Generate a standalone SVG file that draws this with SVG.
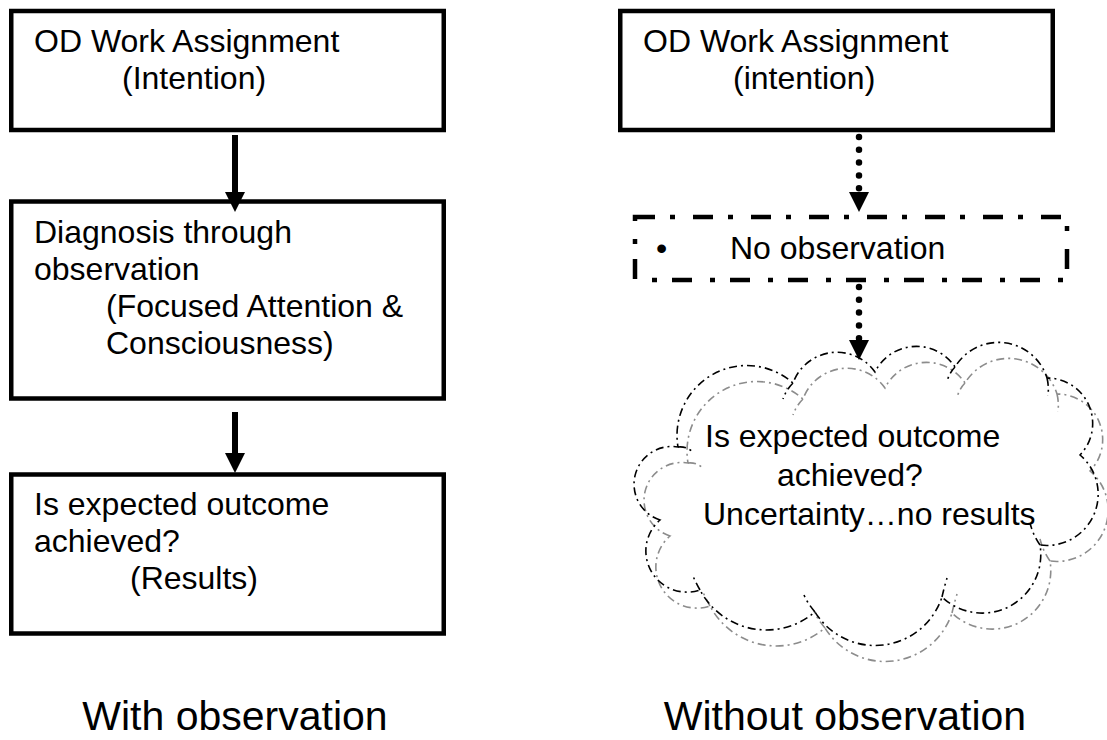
<svg xmlns="http://www.w3.org/2000/svg" width="1107" height="740" viewBox="0 0 1107 740">
<defs>
<style>
.box{fill:none;stroke:#000;stroke-width:4.5}
.dbox{fill:none;stroke:#000;stroke-width:4.5;stroke-dasharray:20 15 5 18}
.t{font-family:"Liberation Sans",Arial,sans-serif;font-size:32px;fill:#000}
.lbl{font-family:"Liberation Sans",Arial,sans-serif;font-size:41px;fill:#000}
.solid{stroke:#000;stroke-width:6;fill:none}
.dots{stroke:#000;stroke-width:6.5;stroke-linecap:round;stroke-dasharray:0 12.8;fill:none}
.cloud{fill:none;stroke-width:1.6;stroke-dasharray:8 4 2 4}
</style>
<marker id="ah" viewBox="0 0 20 20" refX="5" refY="10" markerWidth="20" markerHeight="20" markerUnits="userSpaceOnUse" orient="auto">
<path d="M0,0 L20,10 L0,20 z" fill="#000"/>
</marker>
<marker id="ahd" viewBox="0 0 20 20" refX="-1" refY="10" markerWidth="20" markerHeight="20" markerUnits="userSpaceOnUse" orient="auto">
<path d="M0,0 L20,10 L0,20 z" fill="#000"/>
</marker>
<path id="cloudShape" d="M660,520 A37.7,37.7 0 0 1 678,447 A69.8,69.8 0 0 1 793,383 A46.7,46.7 0 0 1 875,372 A46.3,46.3 0 0 1 955,367 A50.8,50.8 0 0 1 1047,378 A45.5,45.5 0 0 1 1080,455 A51.3,51.3 0 0 1 1040,545 A58.5,58.5 0 0 1 942,597 A70.5,70.5 0 0 1 815,612 A75,75 0 0 1 700,590 A41.1,41.1 0 0 1 660,520 Z M678,447 Q686,446 693,452 M793,383 Q786,390 783,399 M955,367 Q950,372 947,381 M1047,378 Q1049,386 1048,396 M1040,545 Q1033,535 1030,523 M942,597 Q944,588 947,578 M815,612 Q808,604 804,595 M700,590 Q696,583 693,576"/>
</defs>

<g id="connectors">
<line class="solid" x1="235" y1="135" x2="235" y2="197" marker-end="url(#ah)"/>
<line class="solid" x1="235" y1="412" x2="235" y2="458" marker-end="url(#ah)"/>
<line class="dots" x1="859" y1="137" x2="859" y2="191" marker-end="url(#ahd)"/>
<line class="dots" x1="859" y1="287" x2="859" y2="339" marker-end="url(#ahd)"/>
</g>

<g id="left-assignment">
<rect class="box" x="11.25" y="11" width="432.5" height="119"/>
<text class="t" x="34" y="52">OD Work Assignment</text>
<text class="t" x="122" y="89">(Intention)</text>
</g>

<g id="left-diagnosis">
<rect class="box" x="11.25" y="201.5" width="432.5" height="197"/>
<text class="t" x="34" y="243">Diagnosis through</text>
<text class="t" x="34" y="280">observation</text>
<text class="t" x="106" y="317">(Focused Attention &amp;</text>
<text class="t" x="106" y="354">Consciousness)</text>
</g>

<g id="left-results">
<rect class="box" x="11.25" y="474.5" width="432.5" height="159"/>
<text class="t" x="34" y="515">Is expected outcome</text>
<text class="t" x="34" y="552">achieved?</text>
<text class="t" x="130" y="589">(Results)</text>
</g>

<g id="right-assignment">
<rect class="box" x="620.25" y="11" width="432.5" height="119"/>
<text class="t" x="643" y="52">OD Work Assignment</text>
<text class="t" x="733" y="89">(intention)</text>
</g>

<g id="right-no-observation">
<rect class="dbox" x="635" y="217" width="432" height="63"/>
<text class="t" x="656" y="259">•</text>
<text class="t" x="730" y="259">No observation</text>
</g>

<g id="right-cloud">
<use href="#cloudShape" class="cloud" stroke="#8c8c8c" transform="translate(10,16)"/>
<use href="#cloudShape" class="cloud" stroke="#000"/>
<text class="t" x="705" y="447">Is expected outcome</text>
<text class="t" x="777" y="486">achieved?</text>
<text class="t" x="703" y="525">Uncertainty…no results</text>
</g>

<g id="captions">
<text class="lbl" x="235" y="730" text-anchor="middle">With observation</text>
<text class="lbl" x="845" y="730" text-anchor="middle">Without observation</text>
</g>
</svg>
